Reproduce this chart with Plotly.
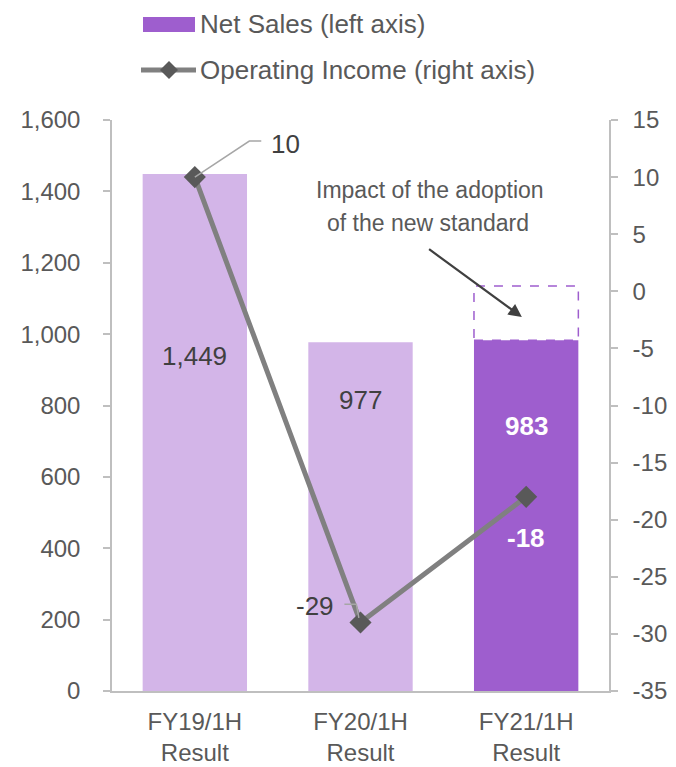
import plotly.graph_objects as go

categories = ["FY19/1H<br>Result", "FY20/1H<br>Result", "FY21/1H<br>Result"]
net_sales = [1449, 977, 983]
operating_income = [10, -29, -18]
impact_top = 1135  # top of dashed box (net sales before new standard adoption)
left_ticks = list(range(0, 1601, 200))
right_ticks = list(range(-35, 16, 5))

LIGHT = "#D3B5E8"
DARK = "#9E5ECE"
LINE = "#808080"
MARK = "#595959"
TXT = "#595959"
AXC = "#BFBFBF"
FONT = "Liberation Sans, Arial, sans-serif"

L, R, T, B = 112, 67, 120, 76
W, H = 676, 767
pw, ph = W - L - R, H - T - B


def px(x):
    return (x - L) / pw


def py(y):
    return (H - B - y) / ph


xs = list(range(len(categories)))
bar_colors = [LIGHT, LIGHT, DARK]

fig = go.Figure()
fig.add_trace(go.Bar(
    x=xs, y=net_sales, width=0.63, marker=dict(color=bar_colors, line=dict(width=0)),
    showlegend=False, hoverinfo="skip",
))
fig.add_trace(go.Scatter(
    x=xs, y=operating_income, yaxis="y2", mode="lines+markers",
    line=dict(color=LINE, width=5),
    marker=dict(symbol="diamond", size=17, color=MARK),
    showlegend=False, hoverinfo="skip",
))

shapes = []
annotations = []

# dashed box for the impact of the new standard
shapes.append(dict(type="rect", xref="x", yref="y", x0=2 - 0.315, x1=2 + 0.315,
                   y0=net_sales[2], y1=impact_top,
                   line=dict(color=DARK, width=1.5, dash="dash"), fillcolor="rgba(0,0,0,0)"))

# data labels for net sales
LBL = 26
sales_label_y = [938, 815, 742]
for i, v in enumerate(net_sales):
    dark = bar_colors[i] == DARK
    annotations.append(dict(x=i, y=sales_label_y[i], xref="x", yref="y",
                            text=f"<b>{v:,}</b>" if dark else f"{v:,}",
                            showarrow=False,
                            font=dict(family=FONT, size=LBL,
                                      color="white" if dark else "#404040"),
                            xanchor="center", yanchor="middle"))

# operating income labels
annotations.append(dict(x=0.45, y=12.9, xref="x", yref="y2", text=f"{operating_income[0]}",
                        showarrow=False, font=dict(family=FONT, size=LBL, color="#404040"),
                        xanchor="left", yanchor="middle"))
annotations.append(dict(x=0.855, y=-27.6, xref="x", yref="y2", text=f"{operating_income[1]}",
                        showarrow=False, font=dict(family=FONT, size=LBL, color="#404040"),
                        xanchor="right", yanchor="middle"))
annotations.append(dict(x=2, y=-21.6, xref="x", yref="y2", text=f"<b>{operating_income[2]}</b>",
                        showarrow=False, font=dict(family=FONT, size=LBL, color="white"),
                        xanchor="center", yanchor="middle"))

# leader lines
shapes.append(dict(type="path", xref="x", yref="y2",
                   path=f"M 0.0,{operating_income[0]} L 0.329,13.16 L 0.401,13.16",
                   line=dict(color="#A6A6A6", width=1.5)))
shapes.append(dict(type="path", xref="x", yref="y2",
                   path="M 0.903,-27.4 L 0.975,-27.4 L 0.99,-28.6",
                   line=dict(color="#A6A6A6", width=1.5)))

# impact note + arrow
annotations.append(dict(x=1.418, y=py(190), xref="x", yref="paper", text="Impact of the adoption",
                        showarrow=False, font=dict(family=FONT, size=23, color=TXT),
                        xanchor="center", yanchor="middle"))
annotations.append(dict(x=1.405, y=py(223), xref="x", yref="paper", text="of the new standard",
                        showarrow=False, font=dict(family=FONT, size=23, color=TXT),
                        xanchor="center", yanchor="middle"))
annotations.append(dict(x=1.974, y=1048, xref="x", yref="y", ax=1.405, ay=1241,
                        axref="x", ayref="y", text="", showarrow=True,
                        arrowhead=2, arrowsize=1.2, arrowwidth=2.2, arrowcolor="#404040"))

# manual legend
shapes.append(dict(type="rect", xref="paper", yref="paper", x0=px(143), x1=px(195),
                   y0=py(32), y1=py(17), fillcolor=DARK, line=dict(width=0)))
annotations.append(dict(x=px(198), y=py(24), xref="paper", yref="paper",
                        text="Net Sales (left axis)", showarrow=False,
                        font=dict(family=FONT, size=26, color=TXT), xanchor="left", yanchor="middle"))
shapes.append(dict(type="line", xref="paper", yref="paper", x0=px(141), x1=px(196),
                   y0=py(70), y1=py(70), line=dict(color=LINE, width=5)))
cx, cy, d = 169, 70, 9
shapes.append(dict(type="path", xref="paper", yref="paper",
                   path=f"M {px(cx-d)},{py(cy)} L {px(cx)},{py(cy-d)} L {px(cx+d)},{py(cy)} L {px(cx)},{py(cy+d)} Z",
                   fillcolor=MARK, line=dict(width=0)))
annotations.append(dict(x=px(198), y=py(70), xref="paper", yref="paper",
                        text="Operating Income (right axis)", showarrow=False,
                        font=dict(family=FONT, size=26, color=TXT), xanchor="left", yanchor="middle"))

TICK = 24
fig.update_layout(
    width=W, height=H, autosize=False,
    margin=dict(l=L, r=R, t=T, b=B, pad=0),
    paper_bgcolor="white", plot_bgcolor="white",
    font=dict(family=FONT, size=TICK, color=TXT),
    xaxis=dict(range=[-0.5, 2.5], tickmode="array", tickvals=xs, ticktext=categories,
               showline=True, linecolor=AXC, linewidth=1.5, ticks="", showgrid=False,
               zeroline=False, tickfont=dict(size=TICK, color=TXT), ticklabelstandoff=8,
               fixedrange=True, automargin=False),
    yaxis=dict(range=[0, 1600], tickmode="array", tickvals=left_ticks,
               ticktext=[f"{v:,}" for v in left_ticks],
               showline=True, linecolor=AXC, linewidth=1.5, ticks="outside", ticklen=7,
               tickcolor=AXC, tickwidth=1.5, showgrid=False, zeroline=False,
               ticklabelstandoff=18, tickfont=dict(size=TICK, color=TXT), automargin=False),
    yaxis2=dict(range=[-35, 15], overlaying="y", side="right", tickmode="array",
                tickvals=right_ticks, ticktext=[str(v) for v in right_ticks],
                showline=True, linecolor=AXC, linewidth=1.5, ticks="outside", ticklen=7,
                tickcolor=AXC, tickwidth=1.5, showgrid=False, zeroline=False,
                ticklabelstandoff=10, tickfont=dict(size=TICK, color=TXT), automargin=False),
    shapes=shapes, annotations=annotations, showlegend=False,
)

fig.write_html("out.html", config={"displayModeBar": False},
               post_script="document.body.style.margin='0px';")
